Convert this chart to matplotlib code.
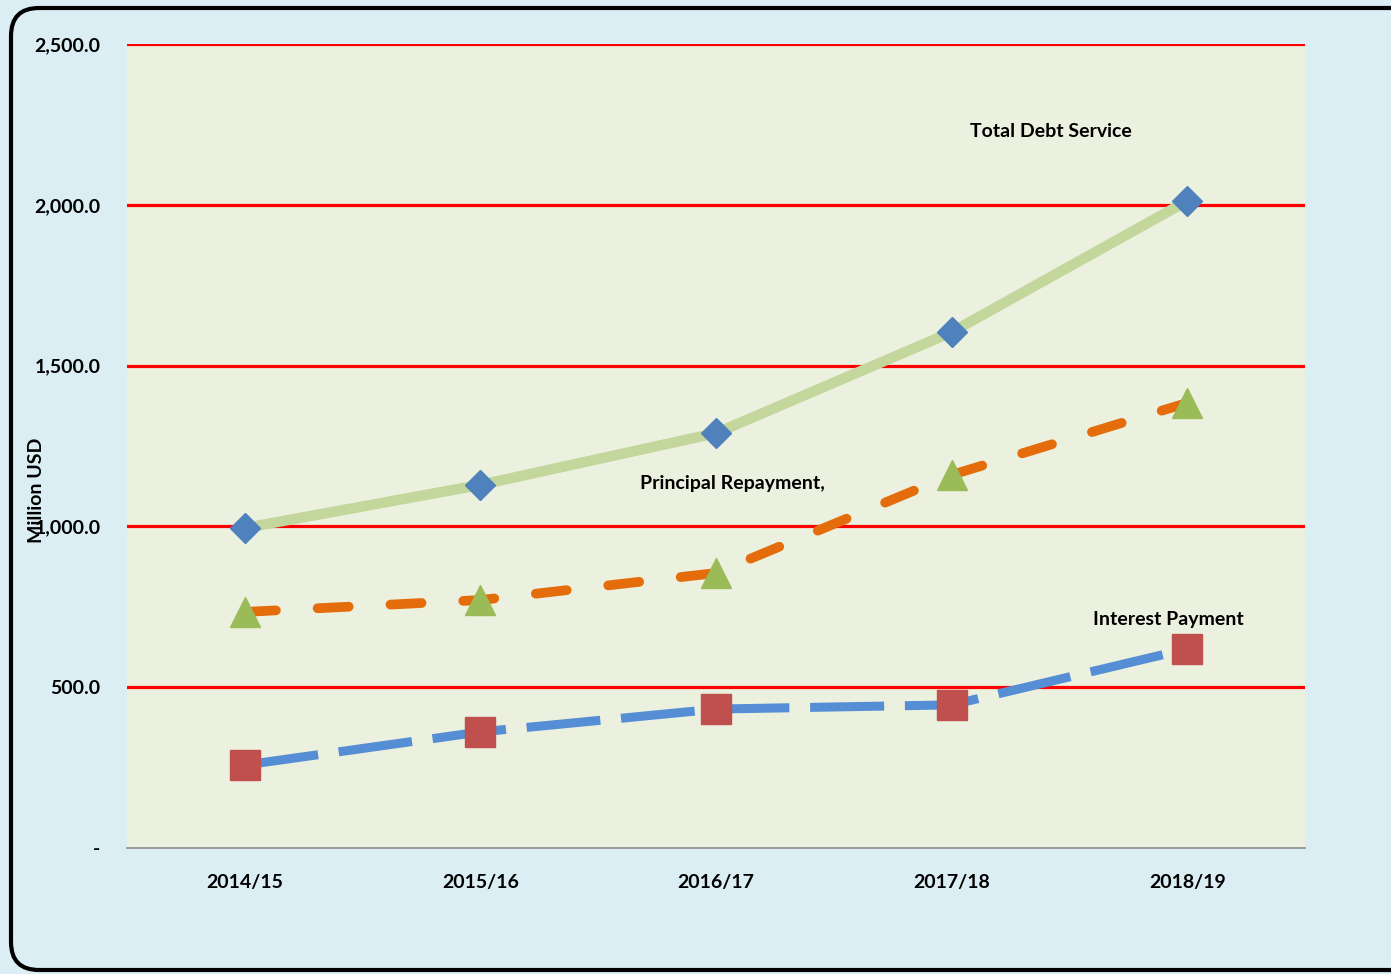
import matplotlib.pyplot as plt
from matplotlib.patches import FancyBboxPatch
from matplotlib.ticker import FuncFormatter

years = ["2014/15", "2015/16", "2016/17", "2017/18", "2018/19"]
total_debt = [995, 1129, 1290, 1604, 2012]
principal = [734, 771, 855, 1160, 1384]
interest = [258, 361, 432, 445, 619]
y_ticks = [0, 500, 1000, 1500, 2000, 2500]

FONT = "Lato"

fig = plt.figure(figsize=(13.91, 9.74), dpi=100)
fig.patch.set_facecolor("#DAEEF3")

# rounded outer border (runs off the right edge like the original)
border = FancyBboxPatch((0.11, 0.04), 14.3, 9.62, boxstyle="round,pad=0,rounding_size=0.28",
                        transform=fig.dpi_scale_trans, facecolor="none",
                        edgecolor="black", linewidth=3, clip_on=False)
fig.patches.append(border)

ax = fig.add_axes([127 / 1391, 1 - 848 / 974, 1178 / 1391, 804 / 974])
ax.set_facecolor("#EBF1DE")

x = list(range(len(years)))

for v in y_ticks[1:]:
    ax.axhline(v, color="#FF0000", linewidth=2.3, zorder=1)

ax.plot(x, total_debt, color="#C3D69B", linewidth=7.5, solid_capstyle="butt", zorder=2)
ax.plot(x, total_debt, linestyle="none", marker="D", markersize=15,
        color="#4F81BD", markeredgecolor="#4F81BD", zorder=5)

ax.plot(x, principal, color="#E46C0A", linewidth=7, linestyle=(0, (3.2, 4.3)),
        dash_capstyle="round", zorder=3)
ax.plot(x, principal, linestyle="none", marker="^", markersize=22,
        color="#9BBB59", markeredgecolor="#9BBB59", zorder=5)

ax.plot(x, interest, color="#558ED5", linewidth=6.5, linestyle=(0, (8.2, 2.3)),
        dash_capstyle="butt", zorder=3)
ax.plot(x, interest, linestyle="none", marker="s", markersize=21,
        color="#C0504D", markeredgecolor="#C0504D", zorder=5)

ax.set_xlim(-0.5, 4.5)
ax.set_ylim(0, 2500)
ax.set_xticks(x)
ax.set_xticklabels(years)
ax.set_yticks(y_ticks)
ax.yaxis.set_major_formatter(FuncFormatter(lambda v, p: "-" if v == 0 else f"{v:,.1f}"))
ax.tick_params(length=0, labelsize=14)
ax.tick_params(axis="x", pad=19)
ax.tick_params(axis="y", pad=19)
for lab in ax.get_xticklabels() + ax.get_yticklabels():
    lab.set_fontweight("bold")
    lab.set_family(FONT)

for s in ["top", "right", "left"]:
    ax.spines[s].set_visible(False)
ax.spines["bottom"].set_color("#8C8C8C")
ax.spines["bottom"].set_linewidth(1.2)

lbl = dict(fontsize=14, fontweight="bold", family=FONT, ha="center", va="center")
ax.text(3.42, 2229, "Total Debt Service", **lbl)
ax.text(2.07, 1132, "Principal Repayment,", **lbl)
ax.text(3.92, 712, "Interest Payment", **lbl)

fig.text(36 / 1391, 1 - 490 / 974, "Million USD", rotation=90, fontsize=14,
         fontweight="bold", family=FONT, ha="center", va="center")

fig.savefig("out.png", dpi=100, facecolor=fig.get_facecolor())
